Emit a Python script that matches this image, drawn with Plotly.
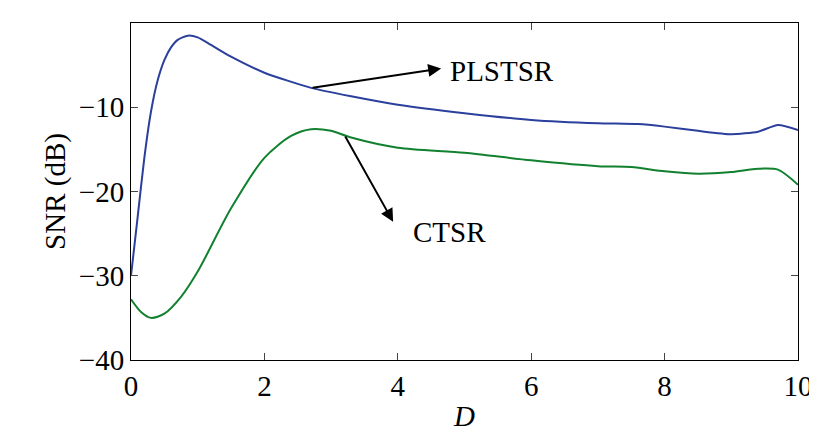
import plotly.graph_objects as go

x_blue = [0, 0.1, 0.2, 0.3, 0.4, 0.5, 0.6, 0.7, 0.85, 1.0, 1.2, 1.5, 2.0, 2.7, 3.3, 4.0, 5.0, 6.0, 7.0, 7.6, 8.0, 8.5, 9.0, 9.4, 9.7, 10.0]
y_blue = [-30, -23, -16, -10.5, -6.8, -4.4, -2.9, -2.0, -1.5, -1.7, -2.6, -4.0, -5.9, -7.7, -8.7, -9.7, -10.7, -11.5, -11.9, -12.0, -12.3, -12.8, -13.2, -12.9, -12.1, -12.7]
x_green = [0, 0.15, 0.3, 0.5, 0.75, 1.0, 1.5, 2.0, 2.4, 2.7, 3.0, 3.3, 4.0, 5.0, 6.0, 7.0, 7.5, 8.0, 8.5, 9.0, 9.4, 9.7, 10.0]
y_green = [-32.8, -34.3, -35, -34.5, -32.5, -29.5, -22, -16, -13.4, -12.6, -12.8, -13.6, -14.8, -15.4, -16.3, -17.0, -17.1, -17.6, -17.9, -17.7, -17.3, -17.4, -19.2]

font = dict(family="Liberation Serif", size=29, color="black")
fig = go.Figure()
fig.add_trace(go.Scatter(x=x_blue, y=y_blue, mode="lines", line=dict(color="#2b3f9c", width=2, shape="spline", smoothing=0.6)))
fig.add_trace(go.Scatter(x=x_green, y=y_green, mode="lines", line=dict(color="#12812f", width=2, shape="spline", smoothing=0.8)))
fig.add_annotation(x=4.65, y=-5.4, ax=2.7, ay=-7.7, xref="x", yref="y", axref="x", ayref="y",
                   text="", showarrow=True, arrowhead=2, arrowsize=1.3, arrowwidth=2, arrowcolor="black")
fig.add_annotation(x=4.75, y=-5.7, text="PLSTSR", showarrow=False, xanchor="left", font=font)
fig.add_annotation(x=3.93, y=-23.6, ax=3.2, ay=-13.3, xref="x", yref="y", axref="x", ayref="y",
                   text="", showarrow=True, arrowhead=2, arrowsize=1.3, arrowwidth=2, arrowcolor="black")
fig.add_annotation(x=4.2, y=-24.8, text="CTSR", showarrow=False, xanchor="left", font=font)
ax = dict(showline=True, mirror="allticks", linecolor="black", linewidth=1, ticks="inside", ticklen=7,
          showgrid=False, zeroline=False, tickfont=font)
fig.update_layout(width=817, height=433, margin=dict(l=123, r=20, t=15, b=81), showlegend=False,
                  plot_bgcolor="white", paper_bgcolor="white", font=font,
                  xaxis=dict(range=[0, 10], dtick=2, title=dict(text="<i>D</i>", font=font, standoff=4), **ax),
                  yaxis=dict(range=[-40, 0], dtick=10, title=dict(text="SNR (dB)", font=font, standoff=4),
                             tickvals=[0, -10, -20, -30, -40], ticktext=["0", "−10", "−20", "−30", "−40"], **ax))
fig.write_html("out.html")
